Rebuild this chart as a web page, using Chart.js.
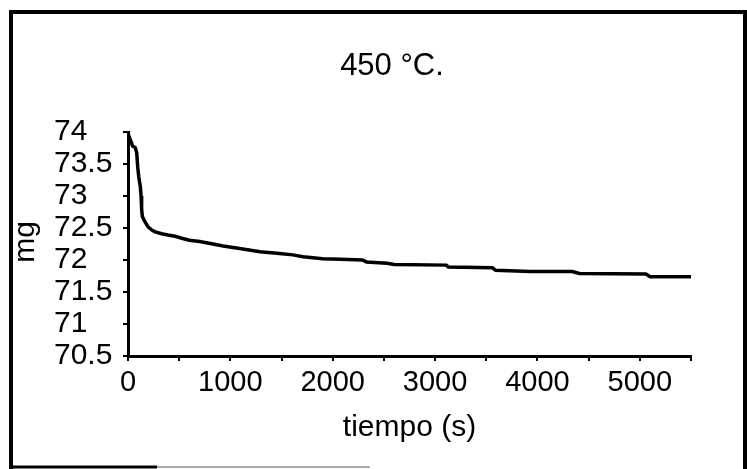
<!DOCTYPE html>
<html>
<head>
<meta charset="utf-8">
<script src="https://cdn.jsdelivr.net/npm/chart.js@4"></script>
<style>
  body { margin: 0; background: #fff; }
  canvas { display: block; }
</style>
</head>
<body>
<canvas id="tgaChart" width="747" height="469"></canvas>
<script>
// datos (tiempo en s, masa en mg)
const tiempo = [5, 30, 45, 70, 85, 95, 105, 120, 128, 133, 140, 165, 195, 230, 265, 330, 390, 460, 525, 600,
  700, 830, 930, 1090, 1290, 1480, 1610, 1710, 1900, 2070, 2290, 2330, 2530, 2600, 3110, 3130, 3560, 3590,
  3930, 4340, 4410, 5060, 5100, 5500];
const masa = [73.95, 73.85, 73.78, 73.76, 73.68, 73.45, 73.3, 73.15, 73.0, 72.8, 72.68, 72.6, 72.52, 72.47, 72.44, 72.41, 72.39, 72.37, 72.34, 72.31,
  72.29, 72.25, 72.22, 72.18, 72.13, 72.1, 72.08, 72.05, 72.02, 72.01, 72.0, 71.97, 71.95, 71.93, 71.92, 71.89, 71.88, 71.84,
  71.82, 71.82, 71.79, 71.78, 71.74, 71.74];

const xTickLabels = [0, 1000, 2000, 3000, 4000, 5000];
const yTickLabels = [70.5, 71, 71.5, 72, 72.5, 73, 73.5, 74];

const titulo = '450 °C.';
const ejeY = 'mg';
const ejeX = 'tiempo (s)';

const FONT = '"Liberation Sans", Arial, sans-serif';
Chart.defaults.font.family = FONT;
Chart.defaults.color = '#000';

// marco, titulo y etiqueta del eje y
const framePlugin = {
  id: 'frame',
  afterDraw(chart) {
    const ctx = chart.ctx;
    ctx.save();
    ctx.strokeStyle = '#000';
    ctx.lineWidth = 4;
    ctx.beginPath();
    ctx.moveTo(11, 469);
    ctx.lineTo(11, 12);
    ctx.lineTo(745, 12);
    ctx.lineTo(745, 469);
    ctx.stroke();
    ctx.lineWidth = 3;
    ctx.beginPath();
    ctx.moveTo(11, 467);
    ctx.lineTo(157, 467);
    ctx.stroke();
    ctx.strokeStyle = '#aaa';
    ctx.lineWidth = 2;
    ctx.beginPath();
    ctx.moveTo(157, 467);
    ctx.lineTo(370, 467);
    ctx.stroke();

    ctx.fillStyle = '#000';
    ctx.font = '31px ' + FONT;
    ctx.textAlign = 'center';
    ctx.textBaseline = 'alphabetic';
    ctx.fillText(titulo, 392, 75);

    ctx.font = '30px ' + FONT;
    ctx.translate(34, 242);
    ctx.rotate(-Math.PI / 2);
    ctx.fillText(ejeY, 0, 0);
    ctx.restore();
  }
};

const ctx = document.getElementById('tgaChart').getContext('2d');
new Chart(ctx, {
  type: 'line',
  data: {
    datasets: [{
      data: tiempo.map((t, i) => ({ x: t, y: masa[i] })),
      borderColor: '#000',
      borderWidth: 3.5,
      pointRadius: 0,
      tension: 0,
      fill: false
    }]
  },
  options: {
    responsive: false,
    animation: false,
    devicePixelRatio: 1,
    layout: { padding: { left: 54, right: 56, top: 132, bottom: 0 } },
    plugins: {
      legend: { display: false },
      tooltip: { enabled: false }
    },
    scales: {
      x: {
        type: 'linear',
        min: 0,
        max: 5500,
        border: { color: '#000', width: 3 },
        grid: { drawOnChartArea: false, color: '#000', lineWidth: 2, tickLength: 5 },
        ticks: {
          stepSize: 500,
          autoSkip: false,
          maxRotation: 0,
          padding: 5,
          font: { size: 29 },
          callback: v => xTickLabels.includes(v) ? String(v) : ''
        },
        title: {
          display: true,
          text: ejeX,
          font: { size: 30 },
          padding: { top: 0, bottom: 23 }
        },
        afterFit: s => { s.height = 113; }
      },
      y: {
        min: 70.5,
        max: 74,
        border: { color: '#000', width: 3 },
        grid: { drawOnChartArea: false, color: '#000', lineWidth: 2, tickLength: 5 },
        ticks: {
          stepSize: 0.5,
          autoSkip: false,
          crossAlign: 'far',
          font: { size: 30 },
          callback: v => yTickLabels.includes(v) ? String(v) : ''
        },
        afterFit: s => { s.width = 74; }
      }
    }
  },
  plugins: [framePlugin]
});
</script>
</body>
</html>
